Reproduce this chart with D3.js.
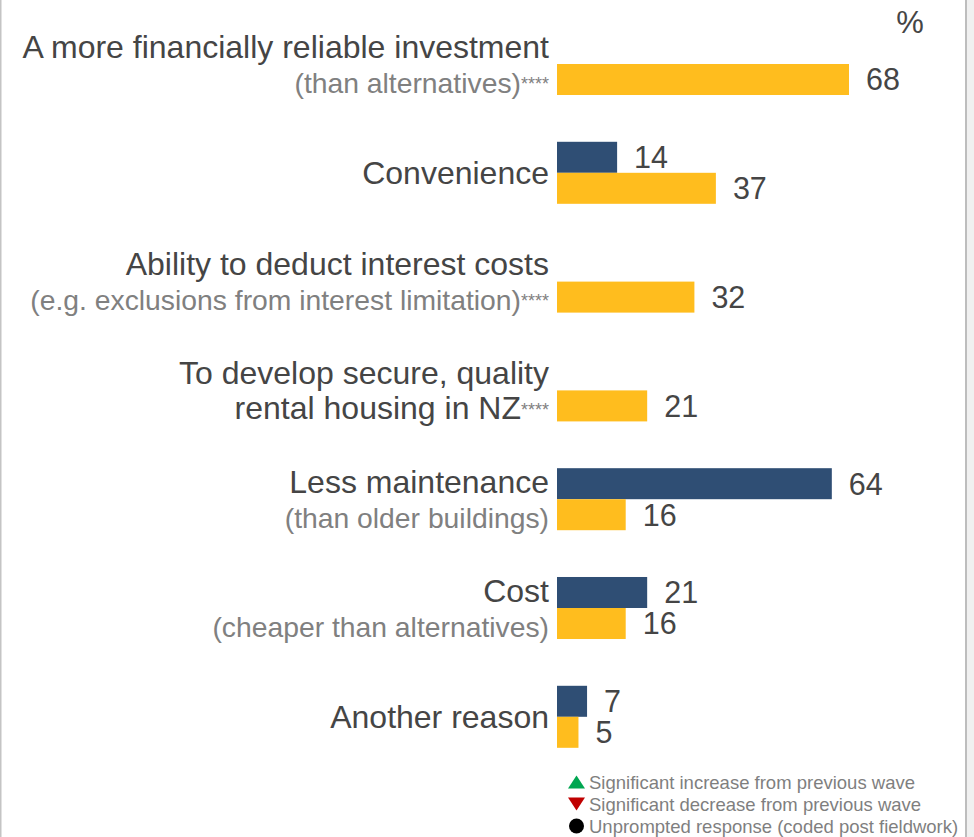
<!DOCTYPE html>
<html>
<head>
<meta charset="utf-8">
<script src="https://cdn.jsdelivr.net/npm/d3@7"></script>
<style>
  html, body { margin: 0; padding: 0; background: #ffffff; }
  svg { display: block; font-family: "Liberation Sans", Arial, sans-serif; }
</style>
</head>
<body>
<svg id="chart" width="974" height="837"></svg>
<script>
// Reasons for choosing the build-to-rent / new-build option (%)
const categories = [
  "A more financially reliable investment",
  "Convenience",
  "Ability to deduct interest costs",
  "To develop secure, quality rental housing in NZ",
  "Less maintenance",
  "Cost",
  "Another reason"
];
// Main (dark) label lines per category
const mainLines = [
  ["A more financially reliable investment"],
  ["Convenience"],
  ["Ability to deduct interest costs"],
  ["To develop secure, quality", "rental housing in NZ"],
  ["Less maintenance"],
  ["Cost"],
  ["Another reason"]
];
// Secondary (grey) explanatory line per category
const subLines = [
  "(than alternatives)",
  "",
  "(e.g. exclusions from interest limitation)",
  "",
  "(than older buildings)",
  "(cheaper than alternatives)",
  ""
];
// Options newly added this wave are flagged with ****
const starred = [true, false, true, true, false, false, false];

const seriesKeys = ["previousWave", "currentWave"];
const previousWave = [null, 14, null, null, 64, 21, 7];
const currentWave  = [68, 37, 32, 21, 16, 16, 5];

const legendItems = [
  { shape: "up",     color: "#00A651", text: "Significant increase from previous wave" },
  { shape: "down",   color: "#C00000", text: "Significant decrease from previous wave" },
  { shape: "circle", color: "#000000", text: "Unprompted response (coded post fieldwork)" }
];

const colors = { previousWave: "#2F4E74", currentWave: "#FFBD1E" };
const textDark = "#454545";
const textGrey = "#808080";

const svg = d3.select("#chart");
const W = 974, H = 837;

// frame
svg.append("rect").attr("x", 0).attr("y", 0).attr("width", W).attr("height", H).attr("fill", "#ffffff");
svg.append("rect").attr("x", 0).attr("y", 0).attr("width", 1.5).attr("height", H).attr("fill", "#c4c4c4");
svg.append("rect").attr("x", 967).attr("y", 0).attr("width", 7).attr("height", H).attr("fill", "#f0f0f0");
svg.append("rect").attr("x", 965).attr("y", 0).attr("width", 2).attr("height", H).attr("fill", "#bdbdbd");

const x = d3.scaleLinear().domain([0, 100]).range([557, 557 + 429.4]);
const y = d3.scaleBand().domain(categories).range([9.6, 771.2])
  .paddingInner(0.43).paddingOuter(0.215);
const ySub = d3.scaleBand().domain(seriesKeys).range([0, y.bandwidth()]).padding(0);

const rows = categories.map((c, i) => ({
  category: c, i,
  values: { previousWave: previousWave[i], currentWave: currentWave[i] }
}));

const g = svg.append("g");
const groups = g.selectAll("g.row").data(rows).join("g")
  .attr("class", "row")
  .attr("transform", d => `translate(0,${y(d.category)})`);

const barData = d => seriesKeys
  .filter(k => d.values[k] != null)
  .map(k => ({ key: k, value: d.values[k] }));

groups.selectAll("rect.bar").data(barData).join("rect")
  .attr("class", "bar")
  .attr("x", x(0))
  .attr("y", d => ySub(d.key))
  .attr("width", d => x(d.value) - x(0))
  .attr("height", ySub.bandwidth())
  .attr("fill", d => colors[d.key]);

groups.selectAll("text.val").data(barData).join("text")
  .attr("class", "val")
  .attr("x", d => x(d.value) + 17)
  .attr("y", d => ySub(d.key) + ySub.bandwidth() / 2)
  .attr("dy", "0.36em")
  .attr("font-size", 30.5)
  .attr("fill", textDark)
  .text(d => d.value);

// category labels, right-aligned against the bars
const labelX = 549;
const lineGap = 35;
rows.forEach((d, i) => {
  const lines = mainLines[i].map(t => ({ text: t, sub: false }));
  if (subLines[i]) lines.push({ text: subLines[i], sub: true });
  const center = y(d.category) + y.bandwidth() / 2;
  const first = center + 11 - (lines.length - 1) * lineGap / 2;
  lines.forEach((ln, j) => {
    const t = g.append("text")
      .attr("x", labelX)
      .attr("y", first + j * lineGap)
      .attr("text-anchor", "end")
      .attr("font-size", ln.sub ? 28.3 : 32)
      .attr("fill", ln.sub ? textGrey : textDark);
    t.append("tspan").text(ln.text);
    if (starred[i] && j === lines.length - 1) {
      t.append("tspan")
        .attr("font-size", 18)
        .attr("dy", -3)
        .attr("fill", textGrey)
        .text("****");
    }
  });
});

// unit marker
svg.append("text")
  .attr("x", 910).attr("y", 33)
  .attr("text-anchor", "middle")
  .attr("font-size", 31)
  .attr("fill", textDark)
  .text("%");

// significance legend
const legend = svg.append("g").attr("transform", "translate(568,782)");
const li = legend.selectAll("g").data(legendItems).join("g")
  .attr("transform", (d, i) => `translate(0,${i * 22})`);
const shapePath = s => {
  if (s === "up") return "M0,6.5L8.5,-6.5L17,6.5Z";
  if (s === "down") return "M0,-6.5L17,-6.5L8.5,6.5Z";
  const p = d3.path();
  p.arc(8.5, 0, 7.5, 0, 2 * Math.PI);
  return p.toString();
};
li.append("path")
  .attr("d", d => shapePath(d.shape))
  .attr("fill", d => d.color);
li.append("text")
  .attr("x", 21)
  .attr("y", 0)
  .attr("dy", "0.36em")
  .attr("font-size", 18.5)
  .attr("fill", "#7f7f7f")
  .text(d => d.text);
</script>
</body>
</html>
